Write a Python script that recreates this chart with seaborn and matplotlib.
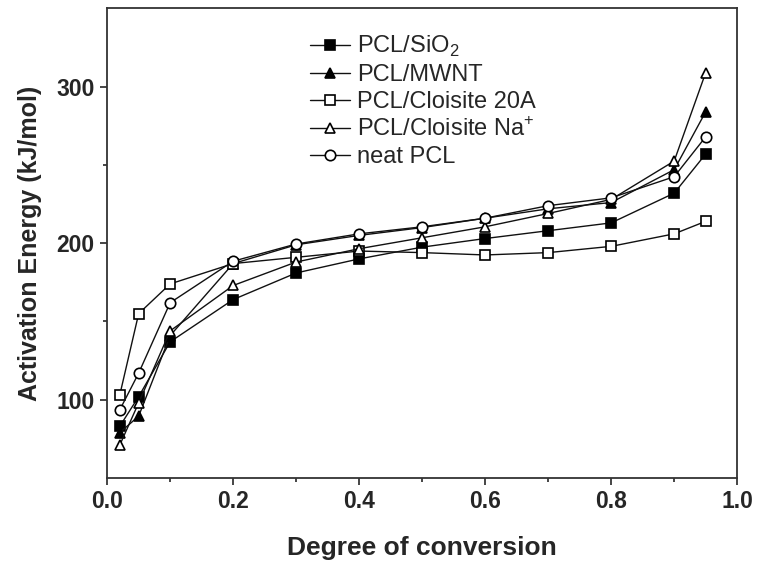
import pandas as pd
import matplotlib.pyplot as plt
import seaborn as sns

# Grado de conversion y energia de activacion (kJ/mol)
conversion = [0.02, 0.05, 0.1, 0.2, 0.3, 0.4, 0.5, 0.6, 0.7, 0.8, 0.9, 0.95]
ea_sio2 = [83, 102, 137, 164, 181, 190, 197.5, 203, 208, 213, 232, 257]
ea_mwnt = [79, 89.5, 141, 187, 199, 205, 210, 216, 222, 226, 247, 284]
ea_20a = [103, 155, 174, 187, 191, 195, 194, 192.5, 194, 198, 206, 214]
ea_na = [71, 98, 144, 173, 188, 196.5, 203.5, 210.5, 219, 228, 252.5, 309]
ea_neat = [93.5, 117, 162, 188.5, 199.5, 206, 210.5, 216, 224, 229, 242.5, 268]

sns.set_style('ticks')
plt.rcParams['font.family'] = ['Liberation Sans', 'DejaVu Sans']
plt.rcParams['mathtext.fontset'] = 'custom'
plt.rcParams['mathtext.rm'] = 'Liberation Sans'

fig = plt.figure(figsize=(7.6, 5.64), dpi=100)
ax = fig.add_axes([0.141, 0.1525, 0.829, 0.8325])

series = [
    ('PCL/SiO$_2$', ea_sio2, 's', 'black'),
    ('PCL/MWNT', ea_mwnt, '^', 'black'),
    ('PCL/Cloisite 20A', ea_20a, 's', 'white'),
    ('PCL/Cloisite Na$^{+}$', ea_na, '^', 'white'),
    ('neat PCL', ea_neat, 'o', 'white'),
]
for etiqueta, valores, marcador, relleno in series:
    sns.lineplot(x=conversion, y=valores, ax=ax, color='#111111', lw=1.0,
                 marker=marcador, markersize=7.5, markerfacecolor=relleno,
                 markeredgecolor='black', markeredgewidth=1.2, label=etiqueta)

ax.set_xlim(0, 1.0)
ax.set_ylim(50, 350)
ax.set_xticks([0.0, 0.2, 0.4, 0.6, 0.8, 1.0])
ax.set_xticks([0.1, 0.3, 0.5, 0.7, 0.9], minor=True)
ax.set_yticks([100, 200, 300])
ax.set_yticks([150, 250], minor=True)
ax.tick_params(which='major', direction='out', length=5, width=1.2, labelsize=16.5, pad=4)
ax.tick_params(which='minor', direction='out', length=3, width=1.2)
for lab in ax.get_xticklabels() + ax.get_yticklabels():
    lab.set_fontweight('bold')
for s in ax.spines.values():
    s.set_linewidth(1.3)
    s.set_color('#333333')

ax.set_xlabel('Degree of conversion', fontsize=19, fontweight='bold', labelpad=16)
ax.set_ylabel('Activation Energy (kJ/mol)', fontsize=18, fontweight='bold', labelpad=10)

ax.legend(loc='upper left', bbox_to_anchor=(0.322, 0.945), frameon=False,
          fontsize=17, handlelength=1.7, handletextpad=0.3, labelspacing=0.2,
          borderaxespad=0, borderpad=0)

plt.savefig('out.png', dpi=100)
